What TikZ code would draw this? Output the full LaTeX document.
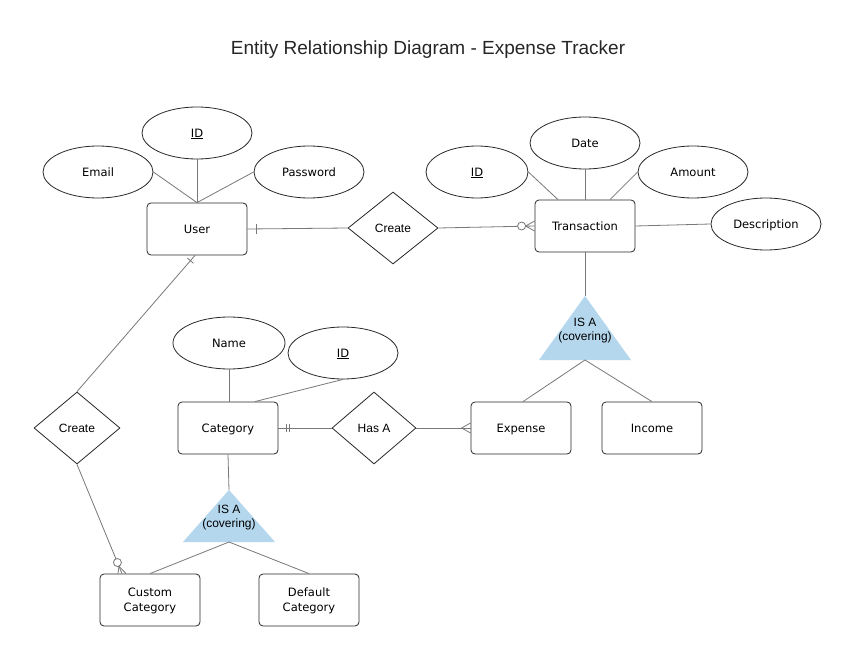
\documentclass[tikz,border=0pt]{standalone}
\usepackage{fontspec}
\setmainfont{DejaVu Sans}
\newfontfamily\arialfont{Liberation Sans}
\usetikzlibrary{shapes.geometric,calc}
\definecolor{isablue}{RGB}{180,215,238}
\definecolor{linegray}{RGB}{120,120,120}
\definecolor{edgedark}{RGB}{40,40,40}
\begin{document}
\begin{tikzpicture}[x=1pt,y=-1pt,
  ent/.style={draw=edgedark, rounded corners=4pt, minimum width=100pt, minimum height=52pt, inner sep=0pt, font=\fontsize{11.5}{15}\selectfont, line width=0.8pt, align=center},
  oneline/.style={text height=9pt, text depth=0.6pt},
  twoline/.style={text height=24pt, text depth=0.6pt},
  attr/.style={draw=edgedark, ellipse, minimum width=110pt, minimum height=52pt, inner sep=0pt, font=\fontsize{11.5}{14}\selectfont, line width=0.8pt, oneline},
  rel/.style={draw=edgedark, diamond, inner sep=0pt, font=\arialfont\fontsize{12}{14}\selectfont, line width=0.8pt, oneline},
  conn/.style={draw=linegray, line width=0.8pt},
  isatext/.style={font=\arialfont\fontsize{12}{14}\selectfont, align=center, inner sep=0pt}
]
\fill[white] (0,0) rectangle (857,647);
\useasboundingbox (0,0) rectangle (857,647);

\node[font=\arialfont\fontsize{19}{22}\selectfont, text=black!85] (title) at (428,50) {Entity Relationship Diagram - Expense Tracker};

% entities
\node[ent, oneline] (user) at (197,229) {User};
\node[ent, oneline] (trans) at (585,226) {Transaction};
\node[ent, oneline] (expense) at (521,428) {Expense};
\node[ent, oneline] (income) at (652,428) {Income};
\node[ent, oneline] (cat) at (228,428) {Category};
\node[ent, twoline] (custom) at (150,600) {Custom\\Category};
\node[ent, twoline] (default) at (309,600) {Default\\Category};

% attributes
\node[attr] (email) at (98,172) {Email};
\node[attr] (uid) at (197,133) {\underline{ID}};
\node[attr] (pass) at (309,172) {Password};
\node[attr, minimum width=102pt] (tid) at (477,172) {\underline{ID}};
\node[attr] (date) at (585,143) {Date};
\node[attr] (amount) at (693,172) {Amount};
\node[attr] (desc) at (766,224) {Description};
\node[attr, minimum width=112pt] (name) at (229,343) {Name};
\node[attr] (cid) at (343,353) {\underline{ID}};

% relationships
\node[rel, minimum width=90pt, minimum height=72pt] (create1) at (393,228) {Create};
\node[rel, minimum width=84pt, minimum height=72pt] (hasa) at (374,428) {Has A};
\node[rel, minimum width=86pt, minimum height=72pt] (create2) at (77,428) {Create};

% ISA triangles
\coordinate (isaT1) at (585,296);
\coordinate (isaB1) at (585,360);
\fill[isablue] (isaT1) -- (631,360) -- (539,360) -- cycle;
\node[isatext] (isa1) at (585,331) {IS A\\(covering)};
\coordinate (isaT2) at (229,490);
\coordinate (isaB2) at (229,542);
\fill[isablue] (isaT2) -- (275,542) -- (183,542) -- cycle;
\node[isatext] (isa2) at (229,518) {IS A\\(covering)};

% attribute connectors
\draw[conn] (email.east) -- (user.north);
\draw[conn] (uid.south) -- (user.north);
\draw[conn] (pass.west) -- (user.north);
\draw[conn] (tid.east) -- ($(trans.north)+(-27,0)$);
\draw[conn] (date.south) -- (trans.north);
\draw[conn] (amount.west) -- ($(trans.north)+(25,0)$);
\draw[conn] (desc.west) -- (trans.east);
\draw[conn] (name.south) -- (name.south |- cat.north);
\draw[conn] (cid.south) -- ($(cat.north)+(27,0)$);

% User - Create - Transaction
\draw[conn] (user.east) -- (create1.west);
\draw[conn] ($(user.east)+(9,-5)$) -- ($(user.east)+(9,5)$);
\draw[conn] (create1.east) -- (trans.west);
\draw[conn] ($(trans.west)+(-9,0)$) -- ($(trans.west)+(0,-5)$);
\draw[conn] ($(trans.west)+(-9,0)$) -- ($(trans.west)+(0,5)$);
\draw[conn, fill=white] ($(trans.west)+(-13,0)$) circle (4pt);

% Transaction ISA
\draw[conn] (trans.south) -- (isaT1);
\draw[conn] (isaB1) -- ($(expense.north)+(2,0)$);
\draw[conn] (isaB1) -- (income.north);

% Category - Has A - Expense
\draw[conn] (cat.east) -- (hasa.west);
\draw[conn] ($(cat.east)+(8,-4)$) -- ($(cat.east)+(8,4)$);
\draw[conn] ($(cat.east)+(11,-4)$) -- ($(cat.east)+(11,4)$);
\draw[conn] (hasa.east) -- (expense.west);
\draw[conn] ($(expense.west)+(-9,0)$) -- ($(expense.west)+(0,-5)$);
\draw[conn] ($(expense.west)+(-9,0)$) -- ($(expense.west)+(0,5)$);

% Category ISA
\draw[conn] (cat.south) -- (isaT2);
\draw[conn] (isaB2) -- (custom.north);
\draw[conn] (isaB2) -- (default.north);

% User - Create - Custom Category
\coordinate (us) at ($(user.south)+(-2,0)$);
\draw[conn] (us) -- (create2.north);
\coordinate (ut) at ($(us)!7pt!(create2.north)$);
\draw[conn] ($(ut)!4pt!90:(create2.north)$) -- ($(ut)!4pt!-90:(create2.north)$);
\coordinate (ce) at ($(custom.north)+(-28,0)$);
\draw[conn] (create2.south) -- (ce);
\coordinate (cf) at ($(ce)!8pt!(create2.south)$);
\draw[conn] (cf) -- ($(ce)+(-4,0)$);
\draw[conn] (cf) -- ($(ce)+(4,0)$);
\draw[conn, fill=white] ($(ce)!12pt!(create2.south)$) circle (4pt);
\end{tikzpicture}
\end{document}
